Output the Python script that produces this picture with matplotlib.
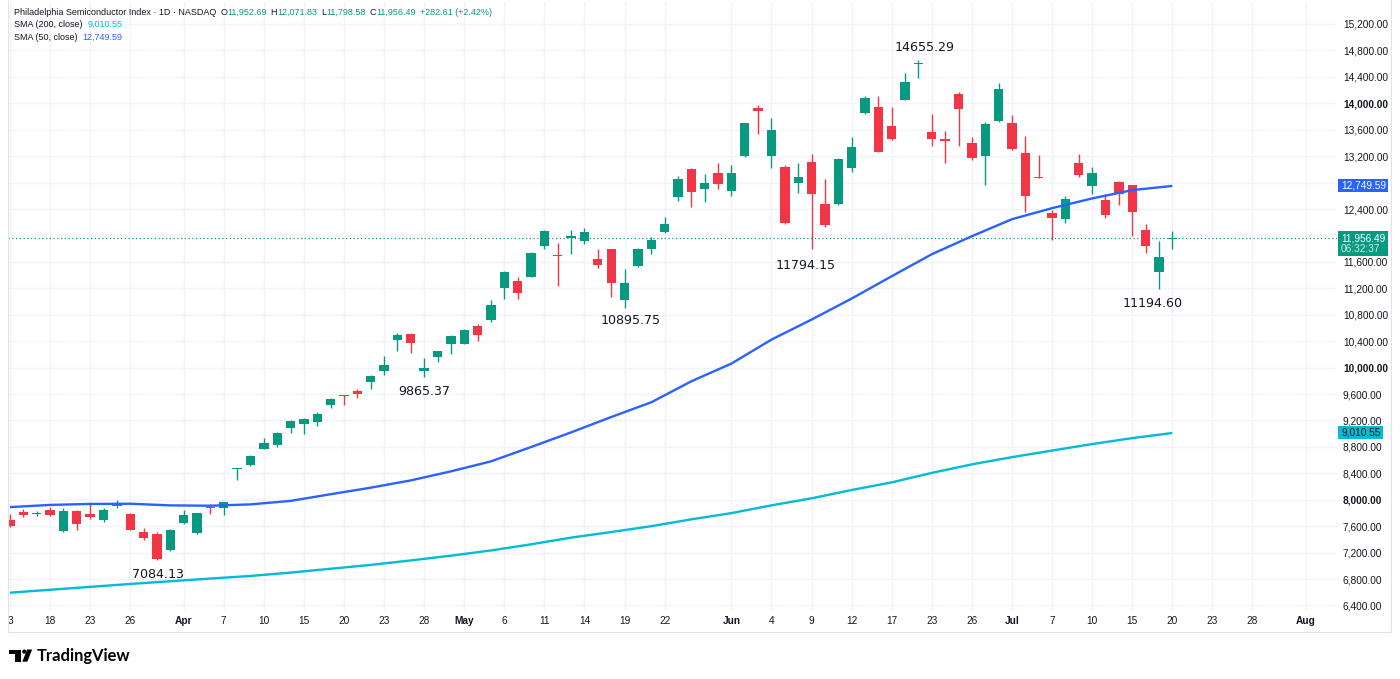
import matplotlib
matplotlib.use("Agg")
import matplotlib.pyplot as plt
from matplotlib.patches import Rectangle, Polygon, Circle

# ======================
# data (daily candles, SOX)
# ======================
opens = [7700, 7815, 7780, 7850, 7525, 7830, 7790, 7690, 7900, 7790,
         7510, 7485, 7245, 7645, 7500, 7890, 7875, 8460, 8520, 8775,
         8825, 9090, 9150, 9175, 9440, 9580, 9645, 9780, 9950, 10425,
         10505, 9945, 10160, 10355, 10355, 10625, 10725, 11210, 11305, 11375,
         11840, 11710, 11965, 11915, 11640, 11790, 11020, 11540, 11790, 12045,
         12585, 13005, 12710, 12950, 12675, 13195, 13930, 13205, 13040, 12800,
         13115, 12475, 12470, 13025, 13860, 13940, 13660, 14050, 14590, 13560,
         13455, 14140, 13395, 13205, 13735, 13695, 13250, 12890, 12340, 12245,
         13100, 12745, 12535, 12810, 12760, 12080, 11450, 11952.69]
highs = [7790, 7865, 7825, 7890, 7880, 7840, 7930, 7880, 8000, 7800,
         7575, 7510, 7560, 7850, 7805, 7930, 7970, 8485, 8670, 8935,
         9025, 9200, 9235, 9330, 9545, 9585, 9680, 9895, 10175, 10530,
         10520, 10150, 10250, 10490, 10590, 10665, 11030, 11455, 11375, 11750,
         12080, 11890, 12080, 12120, 11790, 11795, 11485, 11805, 11970, 12280,
         12900, 13015, 12930, 13090, 13065, 13705, 13975, 13785, 13065, 13090,
         13230, 12850, 13165, 13495, 14115, 14115, 13940, 14455, 14655.29, 13835,
         13585, 14175, 13485, 13720, 14310, 13820, 13505, 13215, 12385, 12595,
         13230, 13040, 12620, 12820, 12765, 12170, 11915, 12071.83]
lows = [7585, 7735, 7750, 7750, 7510, 7535, 7715, 7670, 7880, 7540,
        7395, 7084.13, 7230, 7635, 7485, 7790, 7765, 8295, 8515, 8770,
        8805, 9010, 9000, 9115, 9395, 9430, 9545, 9670, 9895, 10250,
        10220, 9865.37, 10085, 10200, 10350, 10400, 10690, 11035, 11045, 11365,
        11790, 11235, 11715, 11870, 11500, 11070, 10895.75, 11525, 11715, 12040,
        12525, 12435, 12500, 12710, 12600, 13190, 13530, 13025, 12180, 12650,
        11794.15, 12130, 12460, 12965, 13845, 13260, 13450, 14045, 14380, 13350,
        13090, 13350, 13140, 12760, 13720, 13300, 12355, 12870, 11930, 12190,
        12885, 12625, 12265, 12460, 11990, 11735, 11194.60, 11798.58]
closes = [7600, 7765, 7790, 7765, 7830, 7640, 7740, 7850, 7950, 7550,
          7425, 7100, 7550, 7765, 7800, 7875, 7965, 8480, 8655, 8860,
          9010, 9185, 9215, 9295, 9530, 9565, 9605, 9875, 10045, 10490,
          10365, 10000, 10245, 10475, 10565, 10490, 10955, 11450, 11130, 11740,
          12065, 11685, 11990, 12045, 11560, 11275, 11275, 11790, 11930, 12170,
          12850, 12660, 12800, 12785, 12940, 13695, 13885, 13595, 12190, 12880,
          12625, 12165, 13150, 13340, 14075, 13265, 13455, 14315, 14615, 13455,
          13430, 13910, 13175, 13685, 14215, 13315, 12595, 12875, 12270, 12545,
          12915, 12940, 12305, 12625, 12355, 11840, 11673.88, 11956.49]

# moving averages read at every third candle
sma_idx = [0, 3, 6, 9, 12, 15, 18, 21, 24, 27, 30, 33, 36, 39, 42,
           45, 48, 51, 54, 57, 60, 63, 66, 69, 72, 75, 78, 81, 84, 87]
sma50 = [7889, 7922, 7937, 7940, 7915, 7910, 7930, 7983, 8084, 8183,
         8293, 8430, 8581, 8798, 9020, 9252, 9475, 9793, 10061, 10424,
         10727, 11045, 11383, 11716, 11989, 12246, 12413, 12560, 12686, 12749.59]
sma200 = [6594, 6638, 6682, 6726, 6767, 6808, 6847, 6898, 6956, 7014,
          7082, 7154, 7233, 7326, 7427, 7512, 7600, 7704, 7798, 7916,
          8022, 8148, 8263, 8407, 8536, 8645, 8745, 8843, 8933, 9010.55]

# time axis labels (candle index -> label)
tick_idx = [0, 3, 6, 9, 13, 16, 19, 22, 25, 28, 31, 34, 37, 40, 43, 46, 49,
            54, 57, 60, 63, 66, 69, 72, 75, 78, 81, 84, 87, 90, 93, 97]
tick_lbl = ["3", "18", "23", "26", "Apr", "7", "10", "15", "20", "23", "28",
            "May", "6", "11", "14", "19", "22", "Jun", "4", "9", "12", "17",
            "23", "26", "Jul", "7", "10", "15", "20", "23", "28", "Aug"]
months = ["Apr", "May", "Jun", "Jul", "Aug"]

price_ticks = list(range(6400, 15201, 400))
bold_prices = [8000, 10000, 12000, 14000]

# highlighted swing points: candle index, price
swing_idx = [68, 60, 46, 31, 11, 86]
swing_px = [14655.29, 11794.15, 10895.75, 9865.37, 7084.13, 11194.60]

GREEN = "#089981"
RED = "#f23645"
BLUE = "#2962ff"
CYAN = "#00bcd4"
TXT = "#131722"
GRID = "#f0f3fa"

plt.rcParams['font.family'] = ['Liberation Sans', 'DejaVu Sans']

W, H = 1400, 679
fig = plt.figure(figsize=(W / 100, H / 100), dpi=100)
ax = fig.add_axes([8 / W, 1 - 610 / H, (1337 - 8) / W, (610 - 2) / H])

# ======================
# candles
# ======================
xs = list(range(len(opens)))
cols = [GREEN if c >= o else RED for o, c in zip(opens, closes)]
bottoms = [min(o, c) for o, c in zip(opens, closes)]
heights = [max(abs(c - o), 14) for o, c in zip(opens, closes)]

ax.vlines(xs, lows, highs, colors=cols, lw=1.0, zorder=3)
ax.bar(xs, heights, bottom=bottoms, width=0.7, color=cols, linewidth=0, zorder=4)

ax.plot(sma_idx, sma200, color=CYAN, lw=1.7, zorder=5, solid_capstyle='butt')
ax.plot(sma_idx, sma50, color=BLUE, lw=1.7, zorder=5, solid_capstyle='butt')

ax.axhline(closes[-1], color=GREEN, lw=0.9, ls=(0, (1, 2)), zorder=2)

# swing labels
offsets = [(6.5, 12), (-6.5, -16.5), (6.5, -12.5), (0.5, -15), (1, -14), (-6, -15)]
for i, p, off in zip(swing_idx, swing_px, offsets):
    ax.annotate(f"{p:.2f}", xy=(i, p), xytext=off, textcoords='offset pixels',
                ha='center', va='center', fontsize=9.1, family='DejaVu Sans',
                color=TXT, zorder=6)

ax.set_xlim(-0.15, 99.33)
ax.set_ylim(6331.9, 15532.9)

ax.set_xticks(tick_idx)
ax.set_xticklabels(tick_lbl)
ax.yaxis.tick_right()
ax.set_yticks(price_ticks)
ax.set_yticklabels([f"{v:,.2f}" for v in price_ticks])
ax.tick_params(axis='x', length=0, pad=4.5, labelsize=7.3, labelcolor=TXT)
ax.tick_params(axis='y', length=0, pad=4.3, labelsize=7.3, labelcolor=TXT)
for lab in ax.get_xticklabels():
    if lab.get_text() in months:
        lab.set_fontweight('bold')
for lab, v in zip(ax.get_yticklabels(), price_ticks):
    if v in bold_prices:
        lab.set_fontweight('bold')

ax.grid(True, color=GRID, lw=1.0)
ax.set_axisbelow(True)
for s in ax.spines.values():
    s.set_visible(False)

# ======================
# overlay in pixel coords
# ======================
ov = fig.add_axes([0, 0, 1, 1])
ov.set_xlim(0, W)
ov.set_ylim(H, 0)
ov.axis('off')


def ypix(v):
    return H - ax.transData.transform((0, v))[1]


# price scale badges
y50 = ypix(sma50[-1])
ov.add_patch(Rectangle((1338, y50 - 6.5), 50, 13, fc=BLUE, ec='none'))
ov.text(1341, y50, f"{sma50[-1]:,.2f}", color='white', fontsize=7.3, va='center')

ylast = ypix(closes[-1])
ov.add_patch(Rectangle((1338, ylast - 7), 50, 25, fc=GREEN, ec='none'))
ov.text(1341, ylast, f"{closes[-1]:,.2f}", color='white', fontsize=7.3, va='center')
ov.text(1341, ylast + 11, "06:32:37", color='#cfeee6', fontsize=7.3, va='center')

y200 = ypix(sma200[-1])
ov.add_patch(Rectangle((1338, y200 - 6.5), 45, 13, fc=CYAN, ec='none'))
ov.text(1341, y200, f"{sma200[-1]:,.2f}", color=TXT, fontsize=7.3, va='center')

# legend rows
LFS = 6.5


def chain(prev, s, color, gap=0):
    return ov.annotate(s, xy=(1, 0), xycoords=prev, xytext=(gap, 0),
                       textcoords='offset pixels', ha='left', va='bottom',
                       fontsize=LFS, color=color)


t = ov.text(14, 12.5, "Philadelphia Semiconductor Index \u00b7 1D \u00b7 NASDAQ",
            fontsize=LFS, color=TXT, va='center')
ohlc = [("O", opens[-1]), ("H", highs[-1]), ("L", lows[-1]), ("C", closes[-1])]
for k, v in ohlc:
    t = chain(t, k, TXT, gap=4)
    t = chain(t, f"{v:,.2f}", GREEN)
chg = closes[-1] - closes[-2]
t = chain(t, f"+{chg:.2f} (+{chg / closes[-2] * 100:.2f}%)", GREEN, gap=4)

t = ov.text(14, 24.7, "SMA (200, close)", fontsize=LFS, color=TXT, va='center')
chain(t, f"{sma200[-1]:,.2f}", CYAN, gap=5)
t = ov.text(14, 37.3, "SMA (50, close)", fontsize=LFS, color=TXT, va='center')
chain(t, f"{sma50[-1]:,.2f}", BLUE, gap=5)

# pane border
BORDER = "#e0e3eb"
ov.plot([7.5, 7.5], [0, 632], color=BORDER, lw=0.8)
ov.plot([1391, 1391], [0, 632], color=BORDER, lw=0.8)
ov.plot([7.5, 1391], [632, 632], color=BORDER, lw=0.8)

# TradingView logo
ov.add_patch(Polygon([(8.5, 649.5), (20.5, 649.5), (20.5, 653.8), (8.5, 653.8)], fc='black', ec='none'))
ov.add_patch(Polygon([(14.5, 649.5), (20.5, 649.5), (20.5, 661.7), (14.5, 661.7)], fc='black', ec='none'))
ov.add_patch(Circle((24.3, 651.6), 2.1, fc='black', ec='none'))
ov.add_patch(Polygon([(27.2, 649.5), (32.2, 649.5), (27.3, 661.7), (22.3, 661.7)], fc='black', ec='none'))
ov.text(37, 656, "TradingView", fontsize=11.9, family=['Lato', 'DejaVu Sans'],
        fontweight='bold', color='black', va='center', ha='left')

fig.savefig("out.png", dpi=100)
